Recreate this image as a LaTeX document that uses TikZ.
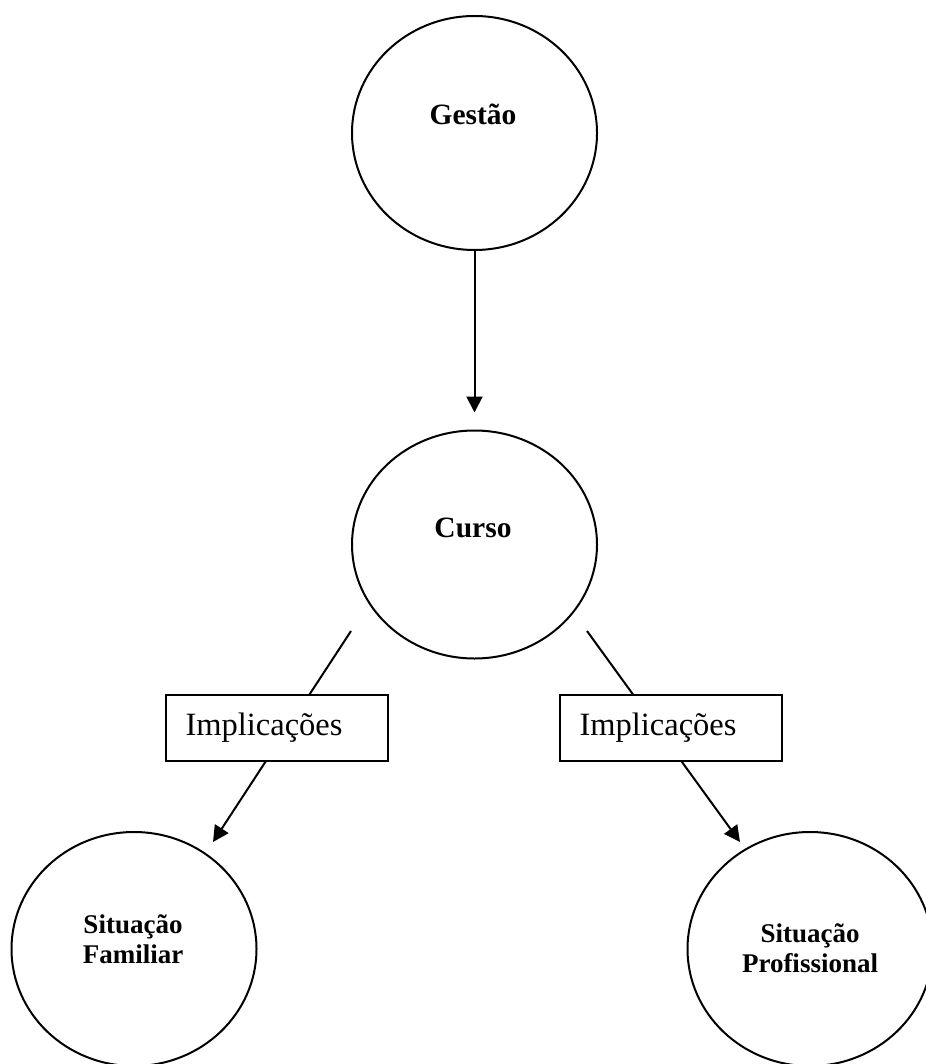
\documentclass[tikz,border=0pt]{standalone}
\usepackage{fontspec}
\setmainfont{Liberation Serif}
\usetikzlibrary{arrows.meta,shapes.geometric}
\begin{document}
\begin{tikzpicture}[x=1pt,y=-1pt,
  circ/.style={draw, ellipse, line width=2pt, minimum width=245pt, minimum height=234pt, inner sep=0pt},
  lbl/.style={font=\fontsize{27}{30}\selectfont\bfseries, align=center, inner sep=0pt},
  biglbl/.style={lbl, font=\fontsize{29.5}{32}\selectfont\bfseries},
  implbox/.style={draw, line width=2pt, fill=white, minimum width=222pt, minimum height=66pt, text width=182pt, align=left, inner xsep=20pt, inner ysep=0pt, font=\fontsize{32.5}{36}\selectfont, text height=22pt, text depth=7pt},
  conn/.style={line width=2pt},
  arr/.style={conn, -{Triangle[length=16pt,width=16pt]}}]
\useasboundingbox (0,0) rectangle (925,1064);
% ellipses
\node[circ] (g) at (474.5,133) {};
\node[circ, minimum height=228pt] (c) at (474.5,544.5) {};
\node[circ] (sf) at (134,949) {};
\node[circ] (sp) at (810,949) {};
% labels
\node[biglbl] (gt) at (473,114) {Gestão};
\node[biglbl] (ct) at (473,528) {Curso};
\node[lbl] (sft) at (133,939) {Situação\\Familiar};
\node[lbl] (spt) at (810,948) {Situação\\Profissional};
% connectors
\draw[arr, shorten >=17pt] (g.south) -- (c.north);
\coordinate (l1) at (351,631);
\coordinate (l2) at (213,842);
\coordinate (r1) at (587,631);
\coordinate (r2) at (740,842);
\draw[arr] (l1) -- (l2);
\draw[arr] (r1) -- (r2);
% boxes
\node[implbox] (il) at (276.5,728) {Implicações};
\node[implbox] (ir) at (670.5,728) {Implicações};
\end{tikzpicture}
\end{document}
